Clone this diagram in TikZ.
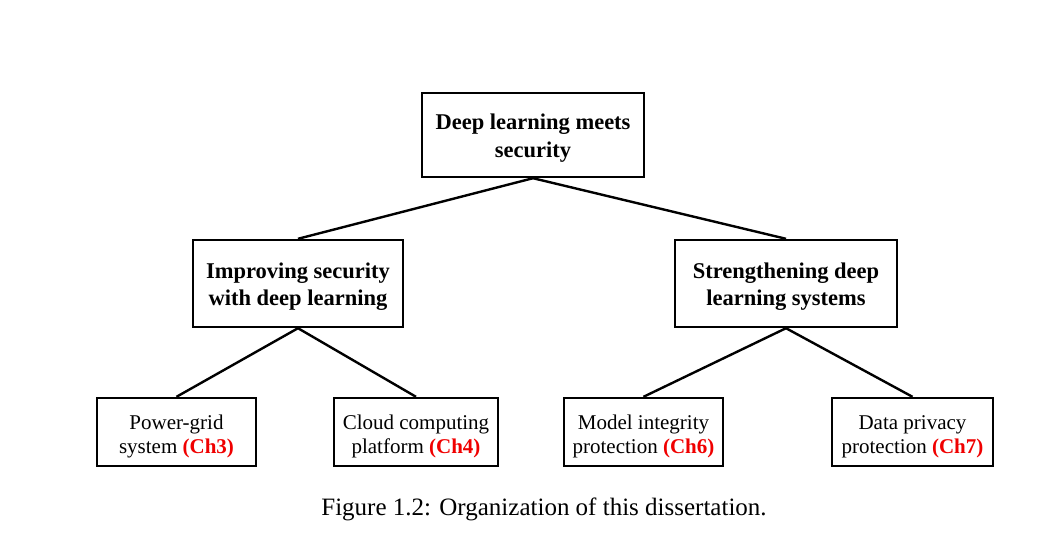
\documentclass[tikz,border=0pt]{standalone}
\usepackage{fontspec}
\setmainfont{Liberation Serif}
\definecolor{chred}{RGB}{240,0,0}
\newcommand{\chp}[1]{\textcolor{chred}{\textbf{(Ch#1)}}}
\newcommand{\twoline}[3]{\raisebox{#1}[\height][\depth]{\begin{tabular}{@{}c@{}}#2\\#3\end{tabular}}}
\begin{document}
\begin{tikzpicture}[x=1pt,y=-1pt,
  box/.style={draw=black,line width=2.4pt,inner sep=0pt,fill=white},
  topbox/.style={box,font=\fontsize{22.5}{27.5}\selectfont\bfseries},
  leafbox/.style={box,font=\fontsize{21}{24.5}\selectfont,minimum height=68pt},
  link/.style={line width=2.4pt}]
\useasboundingbox (0,0) rectangle (1064,543);
\node[topbox,minimum width=222pt,minimum height=84pt] (root) at (533,135) {\twoline{-3pt}{Deep learning meets}{security}};
\node[topbox,minimum width=210pt,minimum height=87pt] (imp) at (298,283.5) {\twoline{-3pt}{Improving security}{with deep learning}};
\node[topbox,minimum width=222pt,minimum height=87pt] (str) at (786,283.5) {\twoline{-3pt}{Strengthening deep}{learning systems}};
\node[leafbox,minimum width=159pt] (pg) at (176.5,432) {\twoline{-4.5pt}{Power-grid}{system \chp{3}}};
\node[leafbox,minimum width=164pt] (cc) at (416,432) {\twoline{-4.5pt}{Cloud computing}{platform \chp{4}}};
\node[leafbox,minimum width=159pt] (mi) at (643.5,432) {\twoline{-4.5pt}{Model integrity}{protection \chp{6}}};
\node[leafbox,minimum width=161pt] (dp) at (912.5,432) {\twoline{-4.5pt}{Data privacy}{protection \chp{7}}};
\draw[link] (root.south) -- (imp.north);
\draw[link] (root.south) -- (str.north);
\draw[link] (imp.south) -- (pg.north);
\draw[link] (imp.south) -- (cc.north);
\draw[link] (str.south) -- (mi.north);
\draw[link] (str.south) -- (dp.north);
\node[font=\fontsize{25}{30}\selectfont,inner sep=0pt] (cap) at (544,509) {Figure 1.2: Organization of this dissertation.};
\end{tikzpicture}
\end{document}
